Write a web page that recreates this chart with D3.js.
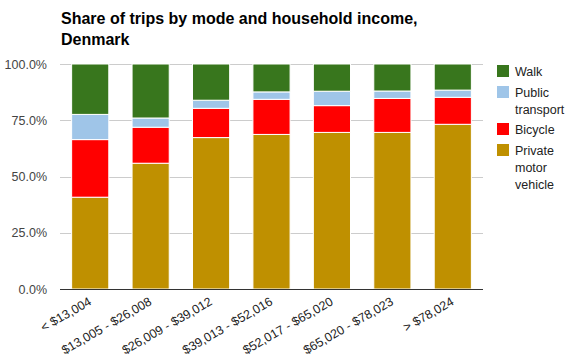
<!DOCTYPE html>
<html><head><meta charset="utf-8">
<script src="https://cdn.jsdelivr.net/npm/d3@7"></script>
<style>body{margin:0;background:#fff}svg{display:block;font-family:Arial,"Liberation Sans",sans-serif}</style>
</head><body><svg id="c" width="571" height="361"></svg>
<script>
const categories = ["< $13,004","$13,005 - $26,008","$26,009 - $39,012","$39,013 - $52,016","$52,017 - $65,020","$65,020 - $78,023","> $78,024"];
const seriesNames = ["Private motor vehicle","Bicycle","Public transport","Walk"];
const privateMotor = [0.408,0.559,0.673,0.687,0.696,0.696,0.732];
const bicycle      = [0.256,0.160,0.130,0.156,0.119,0.151,0.120];
const publicTrans  = [0.112,0.041,0.036,0.033,0.064,0.033,0.032];
const walk         = [0.224,0.240,0.161,0.124,0.121,0.120,0.116];
const yTicks = [0,0.25,0.5,0.75,1];
const colors = ["#bf9000","#ff0000","#9fc5e8","#38761d"];

(function(){
const svg = d3.select("#c");
const pL=60,pR=483,pT=64,pB=289;
const x = d3.scaleBand().domain(categories).range([pL,pR]).paddingInner(0.385).paddingOuter(0.1925);
const y = d3.scaleLinear().domain([0,1]).range([pB,pT]);

const rows = categories.map((c,i)=>({cat:c, p:privateMotor[i], b:bicycle[i], t:publicTrans[i], w:walk[i]}));
const stack = d3.stack().keys(["p","b","t","w"])(rows);

svg.append("text").attr("x",61).attr("y",24).attr("font-size",16).attr("font-weight","bold").attr("fill","#000").text("Share of trips by mode and household income,");
svg.append("text").attr("x",61).attr("y",45).attr("font-size",16).attr("font-weight","bold").attr("fill","#000").text("Denmark");

svg.append("g").selectAll("line").data(yTicks.filter(d=>d>0)).join("line")
  .attr("x1",pL).attr("x2",pR).attr("y1",d=>Math.round(y(d))+0.5).attr("y2",d=>Math.round(y(d))+0.5)
  .attr("stroke","#cccccc");
svg.append("g").selectAll("text").data(yTicks).join("text")
  .attr("x",47).attr("y",d=>y(d)+4.5).attr("text-anchor","end").attr("font-size",12.5).attr("fill","#444")
  .text(d=>d3.format(".1%")(d));

svg.append("g").selectAll("g").data(stack).join("g").attr("fill",(d,i)=>colors[i])
  .selectAll("rect").data(d=>d).join("rect")
  .attr("x",d=>x(d.data.cat)).attr("width",x.bandwidth())
  .attr("y",d=>y(d[1])).attr("height",d=>y(d[0])-y(d[1]))
  .attr("stroke","#fff").attr("stroke-width",1);

svg.append("line").attr("x1",pL).attr("x2",pR).attr("y1",pB+0.5).attr("y2",pB+0.5).attr("stroke","#333");

svg.append("g").selectAll("text").data(categories).join("text")
  .attr("text-anchor","end").attr("font-size",12.5).attr("fill","#222")
  .attr("transform",d=>`translate(${x(d)+x.bandwidth()/2+2},${pB+15}) rotate(-30)`)
  .text(d=>d);

const legend = [
  {lines:["Walk"], color:colors[3], y:65},
  {lines:["Public","transport"], color:colors[2], y:86},
  {lines:["Bicycle"], color:colors[1], y:123},
  {lines:["Private","motor","vehicle"], color:colors[0], y:144}
];
const lg = svg.append("g").selectAll("g").data(legend).join("g");
lg.append("rect").attr("x",497).attr("y",d=>d.y).attr("width",12).attr("height",12).attr("fill",d=>d.color);
lg.each(function(d){
  const t=d3.select(this).append("text").attr("font-size",12.5).attr("fill","#222");
  d.lines.forEach((l,i)=>t.append("tspan").attr("x",515).attr("y",d.y+10.5+i*17).text(l));
});
})();
</script></body></html>
